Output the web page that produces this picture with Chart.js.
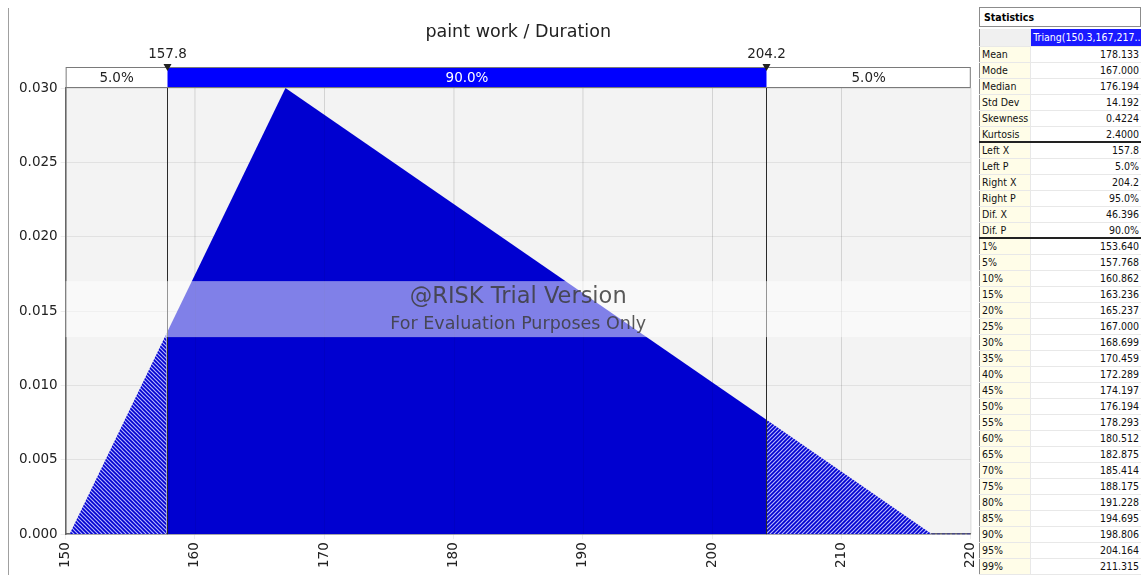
<!DOCTYPE html>
<html>
<head>
<meta charset="utf-8">
<script src="https://cdn.jsdelivr.net/npm/chart.js@4.4.1/dist/chart.umd.min.js"></script>
<style>
body { margin: 0; background: #fff; }
#wrap { position: relative; width: 1141px; height: 575px; overflow: hidden; }
#chartBox { position: absolute; left: 0; top: 0; width: 990px; height: 575px; }
#edge { position: absolute; left: 8px; top: 8px; width: 1px; height: 567px; background: #a0a0a0; }
#statTitle { position: absolute; left: 979px; top: 7px; border: 1px solid #8c8c8c;
  font: bold 10.5px "DejaVu Sans Condensed", "DejaVu Sans", sans-serif; font-stretch: condensed; line-height: 18px;
  padding-left: 4px; box-sizing: border-box; width: 162px; height: 20px; background: #fff; }
#stats { position: absolute; left: 979px; top: 29px; width: 162px; border-collapse: collapse; background: #fff;
  border-left: 1px solid #8c8c8c; border-bottom: 1px solid #8c8c8c;
  font: 10.5px "DejaVu Sans Condensed", "DejaVu Sans", sans-serif; font-stretch: condensed; color: #111; }
#stats td { height: 16px; padding: 0 2px; border-bottom: 1px solid #e8e8e8; white-space: nowrap; overflow: hidden; box-sizing: border-box; }
#stats td.lab { width: 49px; background: #fffde8; border-right: 1px solid #e8e8e8; }
#stats td.val { text-align: right; }
#stats tr.head td { height: 17px; }
#stats tr.head td.lab { background: #f0f0f0; }
#stats tr.head td.val { background: #1a1aff; color: #fff; text-align: left; max-width: 110px; }
#stats tr.sep td { border-bottom: 2px solid #222; }
</style>
</head>
<body>
<div id="wrap">
  <div id="edge"></div>
  <div id="chartBox"><canvas id="distChart"></canvas></div>
  <div id="statTitle">Statistics</div>
  <table id="stats"></table>
</div>
<script>
// triangle vertices of the density
var vertexX = [150.3, 157.8, 167, 204.2, 217];
var vertexY = [0, 0.0135, 0.030, 0.0077, 0];
var tailX = [217, 220];
var tailY = [0, 0];

// delimiters and the probabilities between them
var cutX = [157.8, 204.2];
var cutLabels = ['157.8', '204.2'];
var bandLabels = ['5.0%', '90.0%', '5.0%'];

var chartTitle = 'paint work / Duration';
var fitName = 'Triang(150.3,167,217..';
var statLabels = ['Mean', 'Mode', 'Median', 'Std Dev', 'Skewness', 'Kurtosis',
    'Left X', 'Left P', 'Right X', 'Right P', 'Dif. X', 'Dif. P',
    '1%', '5%', '10%', '15%', '20%', '25%', '30%', '35%', '40%', '45%', '50%',
    '55%', '60%', '65%', '70%', '75%', '80%', '85%', '90%', '95%', '99%'];
var statValues = ['178.133', '167.000', '176.194', '14.192', '0.4224', '2.4000',
    '157.8', '5.0%', '204.2', '95.0%', '46.396', '90.0%',
    '153.640', '157.768', '160.862', '163.236', '165.237', '167.000', '168.699', '170.459', '172.289', '174.197', '176.194',
    '178.293', '180.512', '182.875', '185.414', '188.175', '191.228', '194.695', '198.806', '204.164', '211.315'];
var sepAfter = [5, 11];

var FONT = '"DejaVu Sans", sans-serif';
var BLUE = 'rgb(0,0,208)';

// statistics table
var table = document.getElementById('stats');
var html = '<tr class="head"><td class="lab"></td><td class="val">' + fitName + '</td></tr>';
for (var i = 0; i < statLabels.length; i++) {
    var cls = sepAfter.indexOf(i) >= 0 ? ' class="sep"' : '';
    html += '<tr' + cls + '><td class="lab">' + statLabels[i] + '</td><td class="val">' + statValues[i] + '</td></tr>';
}
table.innerHTML = html;

var pts = function(xs, ys, from, to) {
    var out = [];
    for (var i = from; i < to; i++) out.push({ x: xs[i], y: ys[i] });
    return out;
};

var hatch = function(dir) {
    var c = document.createElement('canvas');
    c.width = 4; c.height = 4;
    var g = c.getContext('2d');
    g.fillStyle = BLUE;
    g.fillRect(0, 0, 4, 4);
    g.strokeStyle = 'rgba(190,190,255,0.95)';
    g.lineWidth = 1.2;
    g.beginPath();
    if (dir < 0) {
        g.moveTo(-1, -1); g.lineTo(5, 5);
        g.moveTo(3, -1); g.lineTo(5, 1);
        g.moveTo(-1, 3); g.lineTo(1, 5);
    } else {
        g.moveTo(-1, 5); g.lineTo(5, -1);
        g.moveTo(-1, 1); g.lineTo(1, -1);
        g.moveTo(3, 5); g.lineTo(5, 3);
    }
    g.stroke();
    return g.createPattern(c, 'repeat');
};

var decor = {
    id: 'decor',
    beforeDraw: function(chart) {
        var a = chart.chartArea, ctx = chart.ctx;
        ctx.save();
        ctx.fillStyle = '#f3f3f3';
        ctx.fillRect(a.left, a.top, a.right - a.left, a.bottom - a.top);
        ctx.restore();
    },
    afterDatasetsDraw: function(chart) {
        // faint grid showing through the filled area
        var a = chart.chartArea, ctx = chart.ctx, xs = chart.scales.x;
        ctx.save();
        ctx.strokeStyle = 'rgba(0,0,0,0.06)';
        ctx.lineWidth = 1;
        xs.ticks.forEach(function(t) {
            var p = Math.round(xs.getPixelForValue(t.value)) + 0.5;
            ctx.beginPath(); ctx.moveTo(p, a.top); ctx.lineTo(p, a.bottom); ctx.stroke();
        });
        ctx.restore();
    },
    afterDraw: function(chart) {
        var a = chart.chartArea, ctx = chart.ctx, xs = chart.scales.x;
        var px = cutX.map(function(v) { return Math.round(xs.getPixelForValue(v)) + 0.5; });
        var barTop = a.top - 21, barH = 20;
        ctx.save();

        // delimiter lines
        ctx.strokeStyle = '#2a2a2a';
        ctx.lineWidth = 1;
        px.forEach(function(p) {
            ctx.beginPath(); ctx.moveTo(p, barTop); ctx.lineTo(p, a.bottom); ctx.stroke();
        });

        // probability bar above the plot
        var edges = [a.left, px[0], px[1], a.right];
        ctx.fillStyle = '#fff';
        ctx.fillRect(a.left, barTop, a.right - a.left, barH);
        ctx.fillStyle = '#0000ff';
        ctx.fillRect(px[0], barTop, px[1] - px[0], barH);
        ctx.strokeStyle = '#7a7a7a';
        ctx.strokeRect(a.left + 0.5, barTop + 0.5, a.right - a.left - 1, barH);
        ctx.font = '13.5px ' + FONT;
        ctx.textAlign = 'center';
        ctx.textBaseline = 'middle';
        for (var i = 0; i < 3; i++) {
            ctx.fillStyle = i === 1 ? '#fff' : '#222';
            ctx.fillText(bandLabels[i], (edges[i] + edges[i + 1]) / 2, barTop + barH / 2 + 1);
        }

        // markers and their values
        px.forEach(function(p, k) {
            ctx.fillStyle = '#222';
            ctx.beginPath();
            ctx.moveTo(p - 4, barTop - 3); ctx.lineTo(p + 4, barTop - 3); ctx.lineTo(p, barTop + 4);
            ctx.closePath(); ctx.fill();
            ctx.fillText(cutLabels[k], p, barTop - 13);
        });

        // trial watermark band
        var mid = (a.top + a.bottom) / 2;
        ctx.fillStyle = 'rgba(255,255,255,0.5)';
        ctx.fillRect(a.left, mid - 30, a.right - a.left, 56);
        var cx = (a.left + a.right) / 2;
        ctx.fillStyle = 'rgba(60,60,60,0.85)';
        ctx.font = '22.5px ' + FONT;
        ctx.fillText('@RISK Trial Version', cx, mid - 14);
        ctx.font = '17.5px ' + FONT;
        ctx.fillText('For Evaluation Purposes Only', cx, mid + 13);
        ctx.restore();
    }
};

var loadDistChart = function() {
    var ctx = document.getElementById('distChart');

    new Chart(ctx, {
        type: 'line',
        data: {
            datasets: [
                {
                    data: pts(vertexX, vertexY, 0, 2),
                    backgroundColor: hatch(-1),
                    borderWidth: 0,
                    fill: 'origin'
                },
                {
                    data: pts(vertexX, vertexY, 1, 4),
                    backgroundColor: BLUE,
                    borderWidth: 0,
                    fill: 'origin'
                },
                {
                    data: pts(vertexX, vertexY, 3, 5),
                    backgroundColor: hatch(1),
                    borderWidth: 0,
                    fill: 'origin'
                },
                {
                    data: pts(tailX, tailY, 0, 2),
                    borderColor: BLUE,
                    borderWidth: 1,
                    borderDash: [3, 2],
                    fill: false
                }
            ]
        },
        options: {
            responsive: true,
            maintainAspectRatio: false,
            animation: false,
            elements: { point: { radius: 0 }, line: { tension: 0 } },
            layout: { padding: { left: 16, right: 2, bottom: 4 } },
            plugins: {
                legend: { display: false },
                tooltip: { enabled: false },
                title: {
                    display: true,
                    text: chartTitle,
                    fullSize: false,
                    color: '#222',
                    font: { family: FONT, size: 17.5, weight: 'normal' },
                    padding: { top: 22, bottom: 45 }
                }
            },
            scales: {
                x: {
                    type: 'linear',
                    min: 150,
                    max: 220,
                    grid: { color: 'rgba(0,0,0,0.07)', tickLength: 5 },
                    border: { color: '#666', width: 1.5 },
                    ticks: {
                        stepSize: 10,
                        minRotation: 90,
                        maxRotation: 90,
                        padding: 3,
                        color: '#222',
                        font: { family: FONT, size: 13.5 }
                    }
                },
                y: {
                    min: 0,
                    max: 0.03,
                    grid: { color: 'rgba(0,0,0,0.07)', tickLength: 5 },
                    border: { color: '#666', width: 1.5 },
                    ticks: {
                        stepSize: 0.005,
                        padding: 3,
                        color: '#222',
                        font: { family: FONT, size: 13.5 },
                        callback: function(v) { return v.toFixed(3); }
                    }
                }
            }
        },
        plugins: [decor]
    });
}

loadDistChart();
</script>
</body>
</html>
